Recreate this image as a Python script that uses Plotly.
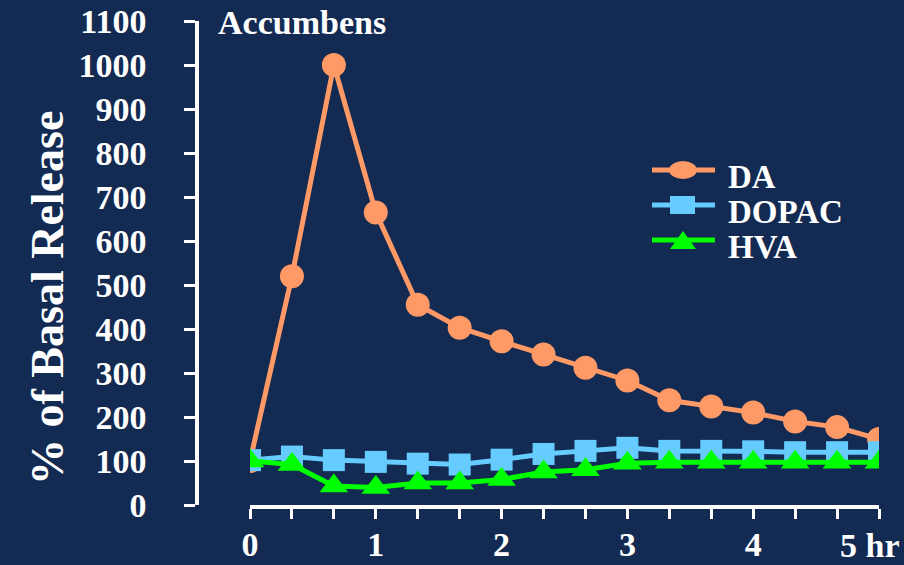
import plotly.graph_objects as go

hours = [0, 1/3, 2/3, 1, 4/3, 5/3, 2, 7/3, 8/3, 3, 10/3, 11/3, 4, 13/3, 14/3, 5]
da = [100, 520, 1000, 665, 455, 403, 372, 342, 312, 283, 238, 224, 210, 190, 177, 150]
dopac = [102, 110, 102, 98, 94, 92, 103, 116, 123, 130, 123, 123, 122, 120, 120, 120]
hva = [100, 92, 43, 40, 50, 50, 58, 75, 80, 95, 97, 97, 97, 97, 97, 97]
x_tickvals = [0, 1, 2, 3, 4, 5]
x_ticktext = ["0", "1", "2", "3", "4", "5 hr"]
y_tickvals = list(range(0, 1101, 100))
series_names = ["DA", "DOPAC", "HVA"]
series_colors = ["#FF9966", "#66CCFF", "#00FF00"]

BG = "#132a52"
FONT = "Liberation Serif"

# plot-area geometry in pixels (used for paper-coordinate placement of decorations)
L, R, T, B = 197, 25, 21, 60
PW, PH = 904 - L - R, 565 - T - B


def px(xp):
    return (xp - L) / PW


def py(yp):
    return (565 - B - yp) / PH


fig = go.Figure()
fig.add_trace(go.Scatter(x=hours, y=da, name="DA", mode="lines+markers",
                         line=dict(color=series_colors[0], width=5),
                         marker=dict(symbol="circle", size=24, color=series_colors[0])))
fig.add_trace(go.Scatter(x=hours, y=dopac, name="DOPAC", mode="lines+markers",
                         line=dict(color=series_colors[1], width=5),
                         marker=dict(symbol="square", size=22, color=series_colors[1])))
fig.add_trace(go.Scatter(x=hours, y=hva, name="HVA", mode="lines+markers",
                         line=dict(color=series_colors[2], width=5),
                         marker=dict(symbol="triangle-up", size=25, color=series_colors[2])))

# ticks every 20 min; integer hours labelled (last label placed separately so it stays inside the page)
minor_vals = [i / 3 for i in range(16)]
minor_text = []
for v in minor_vals:
    if abs(v - round(v)) < 1e-9 and round(v) != x_tickvals[-1]:
        minor_text.append("<b>%s</b>" % x_ticktext[x_tickvals.index(round(v))])
    else:
        minor_text.append("")

fig.update_layout(
    width=904, height=565,
    paper_bgcolor=BG, plot_bgcolor=BG,
    margin=dict(l=L, r=R, t=T, b=B, autoexpand=False),
    font=dict(family=FONT, color="white", size=34),
    showlegend=False,
    xaxis=dict(domain=[(250 - L) / (879 - L), 1], range=[0, 5], showgrid=False, zeroline=False,
               showline=True, linecolor="white", linewidth=3.5,
               tickmode="array", tickvals=minor_vals, ticktext=minor_text,
               ticks="outside", ticklen=10, tickwidth=3, tickcolor="white",
               tickfont=dict(family=FONT, size=34, color="white"),
               ticklabelstandoff=-4, ticklabeloverflow="allow", anchor="y",
               automargin=False),
    yaxis=dict(range=[0, 1100], showgrid=False, zeroline=False,
               showline=True, linecolor="white", linewidth=3.5,
               tickmode="array", tickvals=y_tickvals,
               ticktext=["<b>%d</b>" % v for v in y_tickvals],
               ticks="outside", ticklen=11, tickwidth=3, tickcolor="white",
               tickfont=dict(family=FONT, size=34, color="white"),
               ticklabelstandoff=31,
               anchor="free", position=0, automargin=False),
)

fig.add_annotation(text="<b>%s</b>" % x_ticktext[-1], xref="paper", yref="paper",
                   x=px(902), y=py(545), xanchor="right", yanchor="middle",
                   showarrow=False, font=dict(family=FONT, size=34, color="white"))
fig.add_annotation(text="<b>Accumbens</b>", xref="paper", yref="paper",
                   x=px(216), y=py(23), xanchor="left", yanchor="middle",
                   showarrow=False, font=dict(family=FONT, size=34, color="white"))
fig.add_annotation(text="<b>% of Basal Release</b>", xref="paper", yref="paper",
                   x=px(47), y=py(298), xanchor="center", yanchor="middle",
                   textangle=-90, showarrow=False,
                   font=dict(family=FONT, size=46, color="white"))

# custom legend (long sample lines, as in the original slide)
legend_rows = [170, 205, 240]
for i, (name, col) in enumerate(zip(series_names, series_colors)):
    yr = legend_rows[i]
    fig.add_shape(type="line", xref="paper", yref="paper",
                  x0=px(652), x1=px(715), y0=py(yr), y1=py(yr),
                  line=dict(color=col, width=5))
    if i == 0:
        fig.add_shape(type="circle", xref="paper", yref="paper",
                      x0=px(669), x1=px(697), y0=py(yr + 9), y1=py(yr - 9),
                      fillcolor=col, line=dict(width=0))
    elif i == 1:
        fig.add_shape(type="rect", xref="paper", yref="paper",
                      x0=px(670), x1=px(695), y0=py(yr + 9), y1=py(yr - 9),
                      fillcolor=col, line=dict(width=0))
    else:
        x0, x1, xm = px(670), px(696), px(683)
        yb, yt = py(yr + 9), py(yr - 9)
        fig.add_shape(type="path", xref="paper", yref="paper",
                      path=f"M {x0} {yb} L {x1} {yb} L {xm} {yt} Z",
                      fillcolor=col, line=dict(width=0))
    fig.add_annotation(text="<b>%s</b>" % name, xref="paper", yref="paper",
                       x=px(726), y=py(yr + 7), xanchor="left", yanchor="middle",
                       height=30, showarrow=False,
                       font=dict(family=FONT, size=33, color="white"))

fig.write_html("out.html", config={"displayModeBar": False},
               post_script="document.body.style.margin='0';")
